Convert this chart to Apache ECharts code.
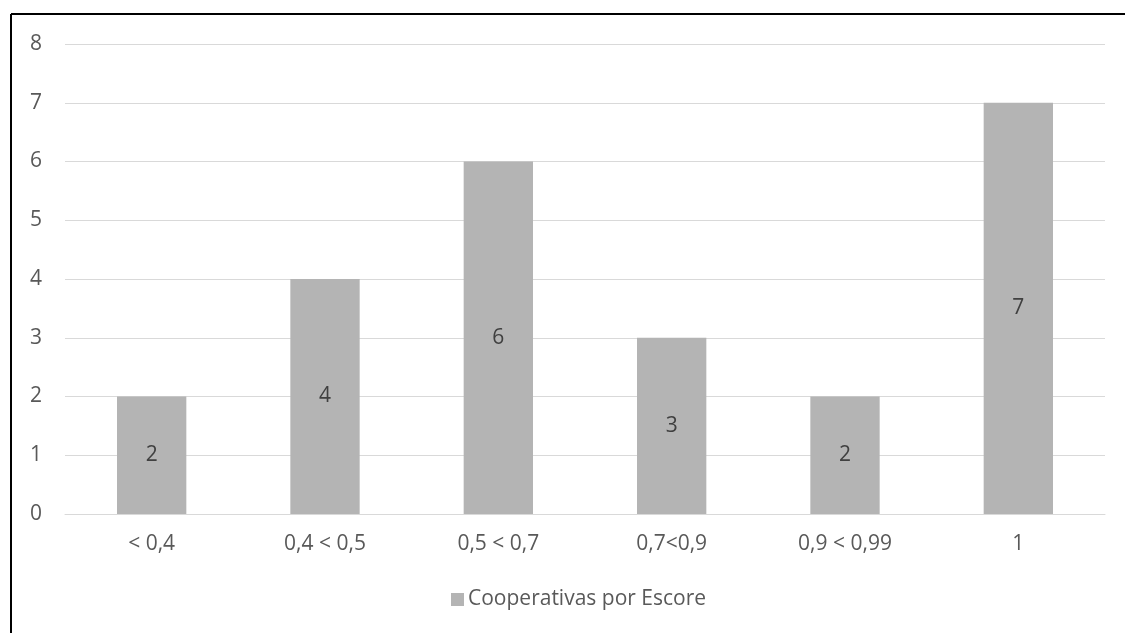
<!DOCTYPE html>
<html>
<head>
<meta charset="utf-8">
<script src="https://cdn.jsdelivr.net/npm/echarts@6/dist/echarts.min.js"></script>
<style>
html,body{margin:0;padding:0;background:#fff;}
#chart{width:1125px;height:633px;}
</style>
</head>
<body>
<div id="chart"></div>
<script>
const categories = ['< 0,4', '0,4 < 0,5', '0,5 < 0,7', '0,7<0,9', '0,9 < 0,99', '1'];
const values = [2, 4, 6, 3, 2, 7];
const seriesName = 'Cooperativas por Escore';
const yTicks = {min: 0, max: 8, interval: 1};

const font = '"Open Sans", "Noto Sans", sans-serif';
const chart = echarts.init(document.getElementById('chart'));
chart.setOption({
  animation: false,
  backgroundColor: '#fff',
  grid: {left: 65, right: 20, top: 44, bottom: 119, containLabel: false},
  legend: {
    data: [seriesName],
    top: 589,
    left: 451,
    padding: 0,
    itemWidth: 13, itemHeight: 13,
    itemGap: 5,
    icon: 'rect',
    textStyle: {color: '#595959', fontSize: 21, fontFamily: font, padding: [0, 0, 0, -1]}
  },
  xAxis: {
    type: 'category',
    data: categories,
    axisLine: {lineStyle: {color: '#d9d9d9', width: 1}},
    axisTick: {show: false},
    axisLabel: {color: '#595959', fontSize: 21, fontFamily: font, margin: 20}
  },
  yAxis: {
    type: 'value',
    min: yTicks.min, max: yTicks.max, interval: yTicks.interval,
    axisLine: {show: false},
    axisTick: {show: false},
    splitLine: {lineStyle: {color: '#d9d9d9', width: 1}},
    axisLabel: {color: '#595959', fontSize: 21, fontFamily: font, margin: 23}
  },
  series: [{
    name: seriesName,
    type: 'bar',
    data: values,
    barWidth: '40%',
    itemStyle: {color: '#b4b4b4'},
    label: {show: true, position: 'inside', color: '#404040', fontSize: 21, fontFamily: font}
  }],
  graphic: [
    {type: 'line', shape: {x1: 11, y1: 14, x2: 1125, y2: 14}, style: {stroke: '#000', lineWidth: 2}},
    {type: 'line', shape: {x1: 11, y1: 14, x2: 11, y2: 633}, style: {stroke: '#000', lineWidth: 2}}
  ]
});
</script>
</body>
</html>
